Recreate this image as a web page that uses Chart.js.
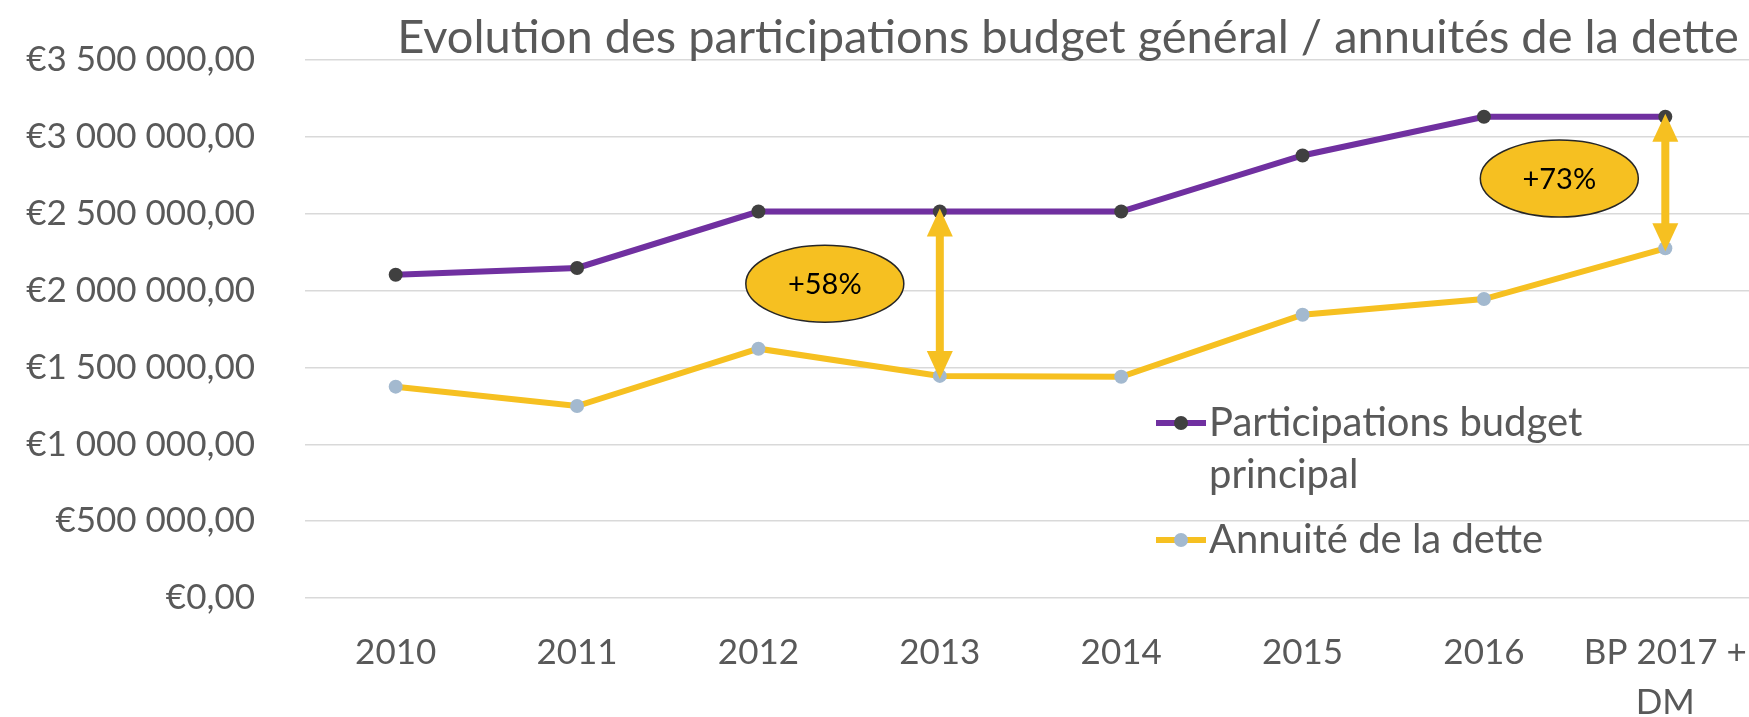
<!DOCTYPE html>
<html>
<head>
<meta charset="utf-8">
<script src="https://cdn.jsdelivr.net/npm/chart.js@4"></script>
<style>
  html, body { margin: 0; padding: 0; background: #fff; overflow: hidden; }
  #wrap { width: 1749px; height: 717px; overflow: hidden; }
</style>
</head>
<body>
<div id="wrap"><canvas id="chart" width="1763" height="717"></canvas></div>
<script>
const categories = ['2010', '2011', '2012', '2013', '2014', '2015', '2016', ['BP 2017 +', 'DM']];
const participations = [2103000, 2147000, 2514000, 2514000, 2514000, 2879000, 3131000, 3131000];
const annuites = [1375000, 1249000, 1622000, 1445000, 1439000, 1843000, 1945000, 2275000];
const seriesNames = ['Participations budget principal', 'Annuité de la dette'];
const yMin = 0, yMax = 3500000, yStep = 500000;
const annotationTexts = ['+58%', '+73%'];
const annotationIndexes = [3, 7];
const chartTitle = 'Evolution des participations budget général / annuités de la dette';

const grey = '#595959';
const gold = '#F6C021';
const font = 'Lato';

function euro(v) {
    const s = Math.round(v).toString().replace(/\B(?=(\d{3})+(?!\d))/g, ' ');
    return '€' + s + ',00';
}

function wrap(ctx, text, maxWidth) {
    const words = text.split(' ');
    const lines = [];
    let line = '';
    words.forEach(w => {
        const test = line ? line + ' ' + w : w;
        if (ctx.measureText(test).width > maxWidth && line) {
            lines.push(line);
            line = w;
        } else {
            line = test;
        }
    });
    lines.push(line);
    return lines;
}

// fleches doubles + ellipses avec pourcentage
const annotationPlugin = {
    id: 'ecarts',
    afterDatasetsDraw(chart) {
        const ctx = chart.ctx;
        const x = chart.scales.x, y = chart.scales.y;
        const dx = [-115, -106];
        const dy = [-10, -4];
        annotationIndexes.forEach((idx, i) => {
            const px = x.getPixelForValue(idx);
            const top = y.getPixelForValue(participations[idx]);
            const bottom = y.getPixelForValue(annuites[idx]);
            const head = 25, headW = 13, shaft = 4;
            ctx.save();
            ctx.fillStyle = gold;
            ctx.fillRect(px - shaft, top + head - 1, shaft * 2, bottom - top - head * 2 + 2);
            ctx.beginPath();
            ctx.moveTo(px, top - 3);
            ctx.lineTo(px + headW, top + head);
            ctx.lineTo(px - headW, top + head);
            ctx.closePath();
            ctx.fill();
            ctx.beginPath();
            ctx.moveTo(px, bottom + 3);
            ctx.lineTo(px + headW, bottom - head);
            ctx.lineTo(px - headW, bottom - head);
            ctx.closePath();
            ctx.fill();

            const cx = px + dx[i];
            const cy = (top + bottom) / 2 + dy[i];
            ctx.beginPath();
            ctx.ellipse(cx, cy, 79, 38.5, 0, 0, Math.PI * 2);
            ctx.fillStyle = gold;
            ctx.fill();
            ctx.lineWidth = 1.5;
            ctx.strokeStyle = '#262626';
            ctx.stroke();
            ctx.fillStyle = '#000';
            ctx.font = '29px ' + font;
            ctx.textAlign = 'center';
            ctx.textBaseline = 'middle';
            ctx.fillText(annotationTexts[i], cx, cy + 1);
            ctx.restore();
        });
    },
    afterDraw(chart) {
        const ctx = chart.ctx;
        ctx.save();
        // titre
        ctx.fillStyle = grey;
        ctx.font = '47px ' + font;
        ctx.textAlign = 'center';
        ctx.textBaseline = 'alphabetic';
        ctx.fillText(chartTitle, 1068, 53);

        // legende
        ctx.font = '40px ' + font;
        ctx.textAlign = 'left';
        ctx.textBaseline = 'middle';
        const lx = 1156;
        let ly = 423;
        chart.data.datasets.forEach(ds => {
            ctx.strokeStyle = ds.borderColor;
            ctx.lineWidth = ds.borderWidth;
            ctx.beginPath();
            ctx.moveTo(lx, ly);
            ctx.lineTo(lx + 50, ly);
            ctx.stroke();
            ctx.fillStyle = ds.pointBackgroundColor;
            ctx.beginPath();
            ctx.arc(lx + 25, ly, ds.pointRadius, 0, Math.PI * 2);
            ctx.fill();
            ctx.fillStyle = grey;
            const lines = wrap(ctx, ds.label, 460);
            lines.forEach((l, k) => ctx.fillText(l, lx + 53, ly + k * 52));
            ly += (lines.length - 1) * 52 + 65;
        });
        ctx.restore();
    }
};

const ctx = document.getElementById('chart').getContext('2d');
new Chart(ctx, {
    type: 'line',
    data: {
        labels: categories,
        datasets: [{
            label: seriesNames[0],
            data: participations,
            borderColor: '#7030A0',
            borderWidth: 6,
            pointBackgroundColor: '#404040',
            pointBorderWidth: 0,
            pointRadius: 7,
            tension: 0
        }, {
            label: seriesNames[1],
            data: annuites,
            borderColor: gold,
            borderWidth: 6,
            pointBackgroundColor: '#A3B9CF',
            pointBorderWidth: 0,
            pointRadius: 7,
            tension: 0
        }]
    },
    options: {
        responsive: false,
        animation: false,
        layout: { padding: { top: 60, left: 0, right: 0, bottom: 0 } },
        plugins: {
            legend: { display: false },
            title: { display: false },
            tooltip: { enabled: false }
        },
        scales: {
            x: {
                offset: true,
                grid: { display: false, drawTicks: true, tickLength: 29, tickColor: 'transparent' },
                border: { display: false },
                ticks: {
                    color: grey,
                    font: { family: font, size: 35, lineHeight: 1.45 },
                    padding: 0,
                    maxRotation: 0,
                    autoSkip: false
                },
                afterFit(scale) {
                    scale.height = 119;
                    scale.paddingLeft = 0;
                    scale.paddingRight = 0;
                }
            },
            y: {
                min: yMin,
                max: yMax,
                grid: { color: '#D9D9D9', lineWidth: 1.5, drawTicks: true, tickLength: 50, tickColor: 'transparent' },
                border: { display: false },
                ticks: {
                    stepSize: yStep,
                    color: grey,
                    font: { family: font, size: 35 },
                    padding: 0,
                    callback: v => euro(v)
                },
                afterFit(scale) { scale.width = 305; }
            }
        }
    },
    plugins: [annotationPlugin]
});
</script>
</body>
</html>
